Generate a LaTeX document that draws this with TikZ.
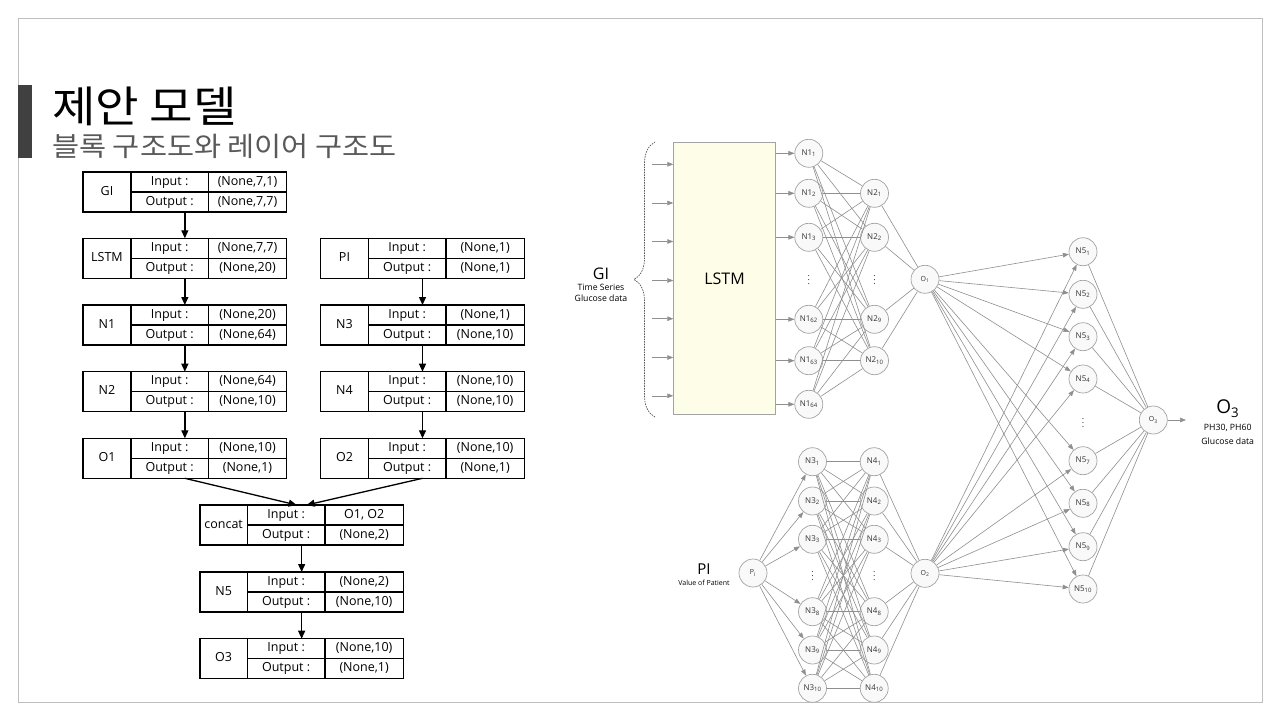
\documentclass[tikz,border=0pt]{standalone}
\usepackage{fontspec}
\setmainfont{Open Sans}
\newfontfamily\kr{Noto Sans CJK KR}
\usetikzlibrary{arrows.meta,decorations.pathreplacing}
\definecolor{framegray}{HTML}{BFBFBF}
\definecolor{bargray}{HTML}{404040}
\definecolor{subgray}{HTML}{595959}
\definecolor{edgegray}{HTML}{8F8F8F}
\definecolor{nodegray}{HTML}{A3A3A3}
\definecolor{nodefill}{HTML}{F9F9F9}
\definecolor{lstmfill}{HTML}{FDFDE8}
\definecolor{ntext}{HTML}{333333}
\tikzset{
  blockbox/.style={draw=black, line width=1.1pt, inner sep=0pt, outer sep=0pt},
  blockline/.style={draw=black, line width=1.1pt},
  blocktext/.style={font=\fontsize{12.5}{14}\selectfont, inner sep=0pt, text=black, text height=9pt, text depth=2.6pt},
  blockarrow/.style={draw=black, line width=1.3pt, -{Triangle[length=8pt,width=7pt]}},
  neuron/.style={circle, draw=nodegray, fill=nodefill, line width=0.7pt, minimum size=28pt, inner sep=0pt,
    font=\fontsize{8}{9}\selectfont, text=ntext},
  outneuron/.style={neuron, font=\fontsize{7}{8}\selectfont},
  edge/.style={draw=edgegray, line width=0.6pt},
  edgearrow/.style={edge, -{Triangle[length=6pt,width=4.5pt]}},
  dotsnode/.style={inner sep=0pt, text=ntext, font=\fontsize{9}{10}\selectfont},
}
\newcommand\layerblock[9]{%
  \node[blockbox, anchor=north west, minimum width={(#6)-(#2)}, minimum height=40] (#1) at (#2,#3) {};
  \draw[blockline] (#4,#3) -- (#4,{#3+40});
  \draw[blockline] (#5,#3) -- (#5,{#3+40});
  \draw[blockline] (#4,{#3+20}) -- (#6,{#3+20});
  \node[blocktext] (#1-name) at ({(#2+#4)/2},{#3+20}) {#7};
  \node[blocktext] (#1-inl) at ({(#4+#5)/2},{#3+10}) {Input :};
  \node[blocktext] (#1-outl) at ({(#4+#5)/2},{#3+30}) {Output :};
  \node[blocktext] (#1-inv) at ({(#5+#6)/2},{#3+10}) {#8};
  \node[blocktext] (#1-outv) at ({(#5+#6)/2},{#3+30}) {#9};
}
\begin{document}
\begin{tikzpicture}[x=1pt,y=-1pt]
\useasboundingbox (0,0) rectangle (1280,720);
\fill[white] (0,0) rectangle (1280,720);
% slide frame
\draw[framegray, line width=1pt] (18.3,18.3) rectangle (1262.3,702.3);
\fill[bargray] (17.8,85) rectangle (32,158);
% titles
\node[anchor=west, inner sep=0pt, font=\kr\fontsize{43}{46}\selectfont, text=black] (title) at (52,106) {\scalebox{1.1}[1]{제안 모델}};
\node[anchor=west, inner sep=0pt, font=\kr\fontsize{27}{30}\selectfont, text=subgray] (subtitle) at (52,146) {\scalebox{1.09}[1]{블록 구조도와 레이어 구조도}};

% ---------- block diagram ----------
\layerblock{GI}{83}{172}{131}{208.3}{286.7}{GI}{(None,7,1)}{(None,7,7)}
\layerblock{LSTMb}{83}{238.3}{131}{208.3}{286.7}{LSTM}{(None,7,7)}{(None,20)}
\layerblock{N1b}{83}{305}{131}{208.3}{286.7}{N1}{(None,20)}{(None,64)}
\layerblock{N2b}{83}{371.7}{131}{208.3}{286.7}{N2}{(None,64)}{(None,10)}
\layerblock{O1b}{83}{438.3}{131}{208.3}{286.7}{O1}{(None,10)}{(None,1)}
\layerblock{PIb}{320.7}{238.3}{368.3}{446}{524.3}{PI}{(None,1)}{(None,1)}
\layerblock{N3b}{320.7}{305}{368.3}{446}{524.3}{N3}{(None,1)}{(None,10)}
\layerblock{N4b}{320.7}{371.7}{368.3}{446}{524.3}{N4}{(None,10)}{(None,10)}
\layerblock{O2b}{320.7}{438.3}{368.3}{446}{524.3}{O2}{(None,10)}{(None,1)}
\layerblock{CCb}{200}{505}{247.3}{325}{403.3}{concat}{O1, O2}{(None,2)}
\layerblock{N5b}{200}{572}{247.3}{325}{403.3}{N5}{(None,2)}{(None,10)}
\layerblock{O3b}{200}{638.7}{247.3}{325}{403.3}{O3}{(None,10)}{(None,1)}
\draw[blockarrow] (GI.south) -- (LSTMb.north);
\draw[blockarrow] (LSTMb.south) -- (N1b.north);
\draw[blockarrow] (N1b.south) -- (N2b.north);
\draw[blockarrow] (N2b.south) -- (O1b.north);
\draw[blockarrow] (PIb.south) -- (N3b.north);
\draw[blockarrow] (N3b.south) -- (N4b.north);
\draw[blockarrow] (N4b.south) -- (O2b.north);
\draw[blockarrow] (O1b.south) -- ([xshift=-5pt]CCb.north);
\draw[blockarrow] (O2b.south) -- ([xshift=5pt]CCb.north);
\draw[blockarrow] (CCb.south) -- (N5b.north);
\draw[blockarrow] (N5b.south) -- (O3b.north);

% ---------- network ----------
\node[draw=nodegray, fill=lstmfill, line width=0.7pt, anchor=north west, minimum width=101.7, minimum height=271.7, inner sep=0pt,
  font=\fontsize{16}{18}\selectfont, text=black] (lstm) at (673.3,142.3) {LSTM};
\draw[decorate, decoration={brace, amplitude=21pt}, draw=subgray, line width=0.7pt, dash pattern=on 1.6pt off 1pt]
  (655,417) -- (655,142);
\node[inner sep=0pt, font=\fontsize{16}{18}\selectfont] (gilab) at (601,274) {GI};
\node[inner sep=0pt, font=\fontsize{8.7}{10}\selectfont] (gits) at (601,287) {Time Series};
\node[inner sep=0pt, font=\fontsize{8.7}{10}\selectfont] (gigd) at (601,298.5) {Glucose data};
\foreach \k/\y in {1/164.3,2/203,3/241.5,4/280.5,5/318.7,6/357.5,7/395.8} {
  \coordinate (in\k) at (652,\y);
  \draw[edgearrow] (in\k) -- (lstm.west |- in\k);
}
% N1 layer
\foreach \n/\y in {1/153.3,2/193.3,3/237.3,62/319.3,63/360.7,64/404.3}
  \node[neuron] (n1-\n) at (808.8,\y) {N1\textsubscript{\n}};
\node[dotsnode] (n1-d) at (808.8,276.7) {$\vdots$};
% N2 layer
\foreach \n/\y in {1/193.3,2/237.3,9/319.3,10/360.7}
  \node[neuron] (n2-\n) at (874.5,\y) {N2\textsubscript{\n}};
\node[dotsnode] (n2-d) at (874.5,276.7) {$\vdots$};
\node[outneuron] (o1) at (925,279.3) {O\textsubscript{1}};
% PI branch
\node[outneuron] (pi) at (753,573) {P\textsubscript{I}};
\node[inner sep=0pt, font=\fontsize{15}{17}\selectfont] (pilab) at (704,569.5) {PI};
\node[inner sep=0pt, font=\fontsize{7}{8}\selectfont] (pivp) at (704,583) {Value of Patient};
\foreach \n/\y in {1/461.7,2/501,3/539.3,8/611.7,9/650,10/688.3} {
  \node[neuron] (n3-\n) at (812.5,\y) {N3\textsubscript{\n}};
  \node[neuron] (n4-\n) at (874.2,\y) {N4\textsubscript{\n}};
}
\node[dotsnode] (n3-d) at (812.5,573.3) {$\vdots$};
\node[dotsnode] (n4-d) at (874.2,573.3) {$\vdots$};
\node[outneuron] (o2) at (925,573.3) {O\textsubscript{2}};
% N5 layer
\foreach \n/\y in {1/251.7,2/294.3,3/336.7,4/379,7/460.7,8/503.3,9/546.7,10/589}
  \node[neuron] (n5-\n) at (1083,\y) {N5\textsubscript{\n}};
\node[dotsnode] (n5-d) at (1083,420) {$\vdots$};
\node[outneuron] (o3) at (1153.3,420) {O\textsubscript{3}};
\coordinate (out) at (1186,420);
\node[inner sep=0pt, font=\fontsize{19}{21}\selectfont] (o3lab) at (1227.7,409) {O\textsubscript{3}};
\node[inner sep=0pt, font=\fontsize{8.7}{10}\selectfont] (o3ph) at (1227.7,428.3) {PH30, PH60};
\node[inner sep=0pt, font=\fontsize{8.7}{10}\selectfont] (o3gd) at (1227.7,441.2) {Glucose data};

% edges
\foreach \n in {1,2,3,62,63,64} {
  \draw[edgearrow] (lstm.east |- n1-\n) -- (n1-\n);
  \foreach \m in {1,2,9,10} \draw[edge] (n1-\n) -- (n2-\m);
}
\foreach \m in {1,2,9,10} \draw[edge] (n2-\m) -- (o1);
\foreach \n in {1,2,3,8,9,10} {
  \draw[edgearrow] (pi) -- (n3-\n);
  \foreach \m in {1,2,3,8,9,10} \draw[edge] (n3-\n) -- (n4-\m);
  \draw[edge] (n4-\n) -- (o2);
}
\foreach \k in {1,2,3,4,7,8,9,10} {
  \draw[edgearrow] (o1) -- (n5-\k);
  \draw[edgearrow] (o2) -- (n5-\k);
  \draw[edge] (n5-\k) -- (o3);
}
\draw[edgearrow] (o3) -- (out);
\end{tikzpicture}
\end{document}
